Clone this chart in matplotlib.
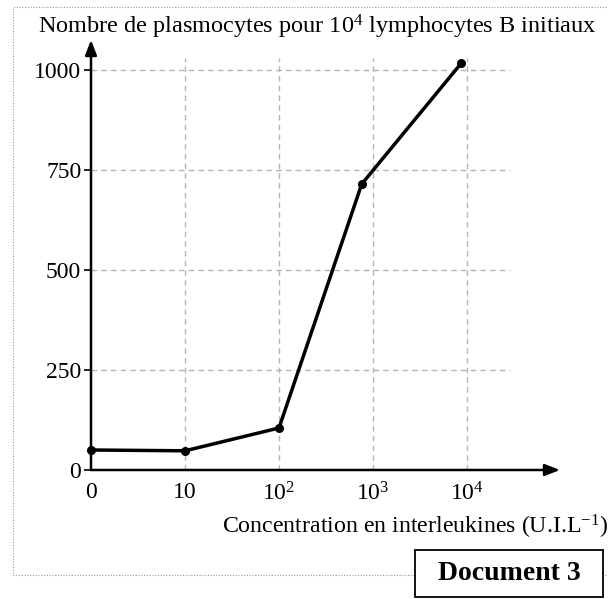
import matplotlib
matplotlib.use("Agg")
import matplotlib.pyplot as plt
import numpy as np
from matplotlib.patches import Rectangle

plt.rcParams["font.family"] = ["Liberation Serif", "DejaVu Serif"]
plt.rcParams["mathtext.fontset"] = "custom"
plt.rcParams["mathtext.rm"] = "Liberation Serif"
plt.rcParams["mathtext.it"] = "Liberation Serif:italic"

# concentration (U.I/L) and plasmocytes per 10^4 B lymphocytes
conc = [0, 10, 100, 760, 8700]
plasmo = [50, 48, 105, 715, 1017]

xtick_labels = ["0", "10", r"10$^{\mathrm{2}}$", r"10$^{\mathrm{3}}$", r"10$^{\mathrm{4}}$"]
ytick_vals = [0, 250, 500, 750, 1000]

# 0 is drawn at the origin, other values on a log axis (one decade = one step)
x_pos = [0 if c == 0 else np.log10(c) for c in conc]

W, H = 608, 599
fig = plt.figure(figsize=(W / 100, H / 100), dpi=100)

ax = fig.add_axes([91 / W, 1 - 470 / H, (560 - 91) / W, 430 / H])
ax.set_xlim(0, 4.99)
ax.set_ylim(0, 1075)
for s in ax.spines.values():
    s.set_visible(False)

# dashed grid
for gx in range(1, 5):
    ax.plot([gx, gx], [0, 1030], color="#b5b5b5", lw=1, ls=(0, (4, 3)), zorder=1)
for gy in ytick_vals[1:]:
    ax.plot([0, 4.46], [gy, gy], color="#b5b5b5", lw=1, ls=(0, (4, 3)), zorder=1)

# axes with arrows
ax.annotate("", xy=(0, 1.0), xytext=(0, 0), xycoords="axes fraction",
            arrowprops=dict(arrowstyle="-|>,head_length=0.9,head_width=0.35",
                            color="black", lw=1.8, shrinkA=0, shrinkB=0))
ax.annotate("", xy=(1.0, 0), xytext=(0, 0), xycoords="axes fraction",
            arrowprops=dict(arrowstyle="-|>,head_length=0.9,head_width=0.35",
                            color="black", lw=1.8, shrinkA=0, shrinkB=0))

ax.plot(x_pos, plasmo, color="black", lw=2.5, marker="o", ms=5.5, zorder=3,
        clip_on=False)

ax.set_xticks(range(5))
ax.set_xticklabels(xtick_labels, fontsize=17)
ax.tick_params(axis="x", length=0, pad=9)
ax.set_yticks(ytick_vals)
ax.set_yticklabels([str(v) for v in ytick_vals], fontsize=17)
ax.tick_params(axis="y", length=5, width=1.2, pad=2)

fig.text(38 / W, 1 - 27 / H,
         r"Nombre de plasmocytes pour 10$^{\mathrm{4}}$ lymphocytes B initiaux",
         fontsize=17.5, va="center", ha="left")
fig.text(222 / W, 1 - 527 / H,
         r"Concentration en interleukines (U.I.L$^{\mathrm{-1}}$)",
         fontsize=17.2, va="center", ha="left")

# dotted frame around the document
fig.patches.append(Rectangle((13 / W, 1 - 575 / H), (620 - 13) / W, (575 - 7) / H,
                             transform=fig.transFigure, fill=False,
                             ls=(0, (1, 1.5)), lw=0.8, ec="#9a9a9a"))
fig.patches.append(Rectangle((415 / W, 1 - 597 / H), (603 - 415) / W, (597 - 550) / H,
                             transform=fig.transFigure, fc="white", ec="black",
                             lw=1.3, zorder=3))
fig.text(509 / W, 1 - 574 / H, "Document 3", fontsize=20, fontweight="bold",
         ha="center", va="center", zorder=4)

fig.savefig("out.png", dpi=100)
